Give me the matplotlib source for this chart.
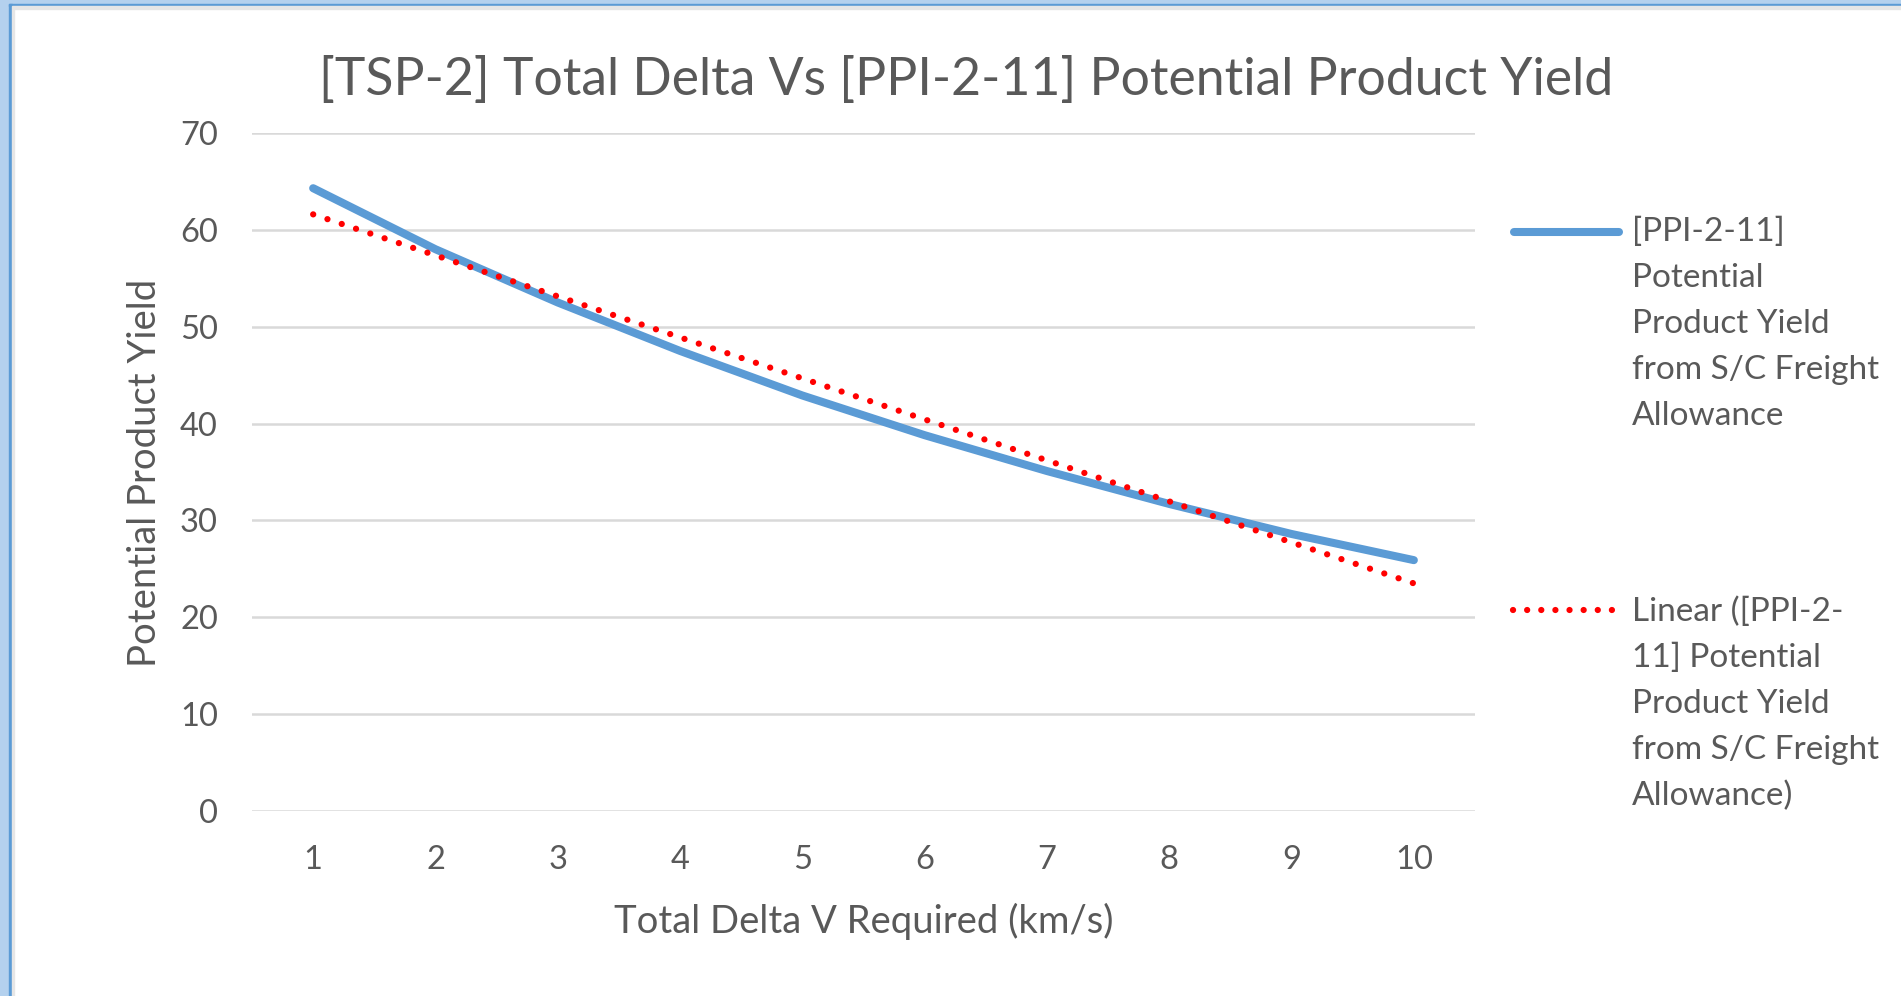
import matplotlib
matplotlib.use("Agg")
import matplotlib.pyplot as plt
from matplotlib.lines import Line2D
from matplotlib.patches import Rectangle

# ---- data ----
delta_v = [1, 2, 3, 4, 5, 6, 7, 8, 9, 10]
x_tick_labels = ["1", "2", "3", "4", "5", "6", "7", "8", "9", "10"]
yield_values = [64.3, 58.0, 52.5, 47.5, 42.9, 38.8, 35.1, 31.7, 28.6, 25.9]
trend_x = [1, 10]
trend_y = [61.6, 23.5]
y_ticks = [0, 10, 20, 30, 40, 50, 60, 70]

title = "[TSP-2] Total Delta Vs [PPI-2-11] Potential Product Yield"
x_label = "Total Delta V Required (km/s)"
y_label = "Potential Product Yield"
legend_1 = ["[PPI-2-11]", "Potential", "Product Yield", "from S/C Freight", "Allowance"]
legend_2 = ["Linear ([PPI-2-", "11] Potential", "Product Yield", "from S/C Freight", "Allowance)"]

FONT = "Lato"
TXT = "#595959"
BLUE = "#5B9BD5"
RED = "#FF0000"
GRID = "#D9D9D9"

W, H = 1901, 996
fig = plt.figure(figsize=(W / 100, H / 100), dpi=100)
fig.patch.set_facecolor("white")

def fx(px):
    return px / W

def fy(py):
    return 1 - py / H

# window frame (screenshot border)
fig.patches.append(Rectangle((0, 0), fx(9), 1, transform=fig.transFigure, color="#B4D1EE", zorder=0))
fig.patches.append(Rectangle((fx(9), 0), fx(2.5), fy(4), transform=fig.transFigure, color="#5B9BD5", zorder=1))
fig.patches.append(Rectangle((0, fy(4)), 1, fx(4) * W / H, transform=fig.transFigure, color="#B4D1EE", zorder=0))
fig.patches.append(Rectangle((fx(9), fy(6.5)), 1, 2.5 / H, transform=fig.transFigure, color="#5B9BD5", zorder=1))
fig.patches.append(Rectangle((fx(11.5), fy(9)), 1, 2.5 / H, transform=fig.transFigure, color="#E6E6E6", zorder=1))
fig.patches.append(Rectangle((fx(11.5), 0), 2.5 / W, fy(9), transform=fig.transFigure, color="#E6E6E6", zorder=1))

left, right, top, bottom = 252, 1475, 133, 811
ax = fig.add_axes([fx(left), fy(bottom), fx(right - left), (bottom - top) / H])
ax.set_facecolor("none")

ax.plot(delta_v, yield_values, color=BLUE, lw=5.8, solid_capstyle="round",
        solid_joinstyle="round", zorder=3)
ax.plot(trend_x, trend_y, color=RED, lw=4.5, linestyle=(0, (0.01, 2.4)),
        dash_capstyle="round", zorder=4)

ax.set_xlim(0.5, 10.5)
ax.set_ylim(0, 70)
ax.set_yticks(y_ticks)
ax.set_xticks(delta_v)
ax.set_xticklabels(x_tick_labels)
for s in ax.spines.values():
    s.set_visible(False)
ax.grid(axis="y", color=GRID, lw=1.8, zorder=1)
ax.grid(axis="x", visible=False)
ax.tick_params(axis="both", length=0, labelcolor=TXT, labelsize=23.5)
ax.tick_params(axis="y", pad=24.5)
ax.tick_params(axis="x", pad=24.5)
for lab in ax.get_xticklabels() + ax.get_yticklabels():
    lab.set_fontfamily(FONT)

fig.text(fx(966), fy(95), title, ha="center", va="baseline", fontsize=37.3,
         color=TXT, family=FONT)
fig.text(fx(864), fy(933), x_label, ha="center", va="baseline", fontsize=27.5,
         color=TXT, family=FONT)
fig.text(fx(145), fy(473), y_label, ha="center", va="center", rotation=90,
         fontsize=27.5, color=TXT, family=FONT)

# legend
fig.add_artist(Line2D([fx(1514), fx(1619)], [fy(232), fy(232)], transform=fig.transFigure,
                      color=BLUE, lw=5.8, solid_capstyle="round"))
fig.add_artist(Line2D([fx(1513), fx(1613)], [fy(610), fy(610)], transform=fig.transFigure,
                      color=RED, lw=4.5, linestyle=(0, (0.01, 2.25)), dash_capstyle="round"))
for i, line in enumerate(legend_1):
    fig.text(fx(1632), fy(241 + 46 * i), line, ha="left", va="baseline",
             fontsize=24, color=TXT, family=FONT)
for i, line in enumerate(legend_2):
    fig.text(fx(1632), fy(621 + 46 * i), line, ha="left", va="baseline",
             fontsize=24, color=TXT, family=FONT)

fig.savefig("out.png", dpi=100, facecolor="white")
